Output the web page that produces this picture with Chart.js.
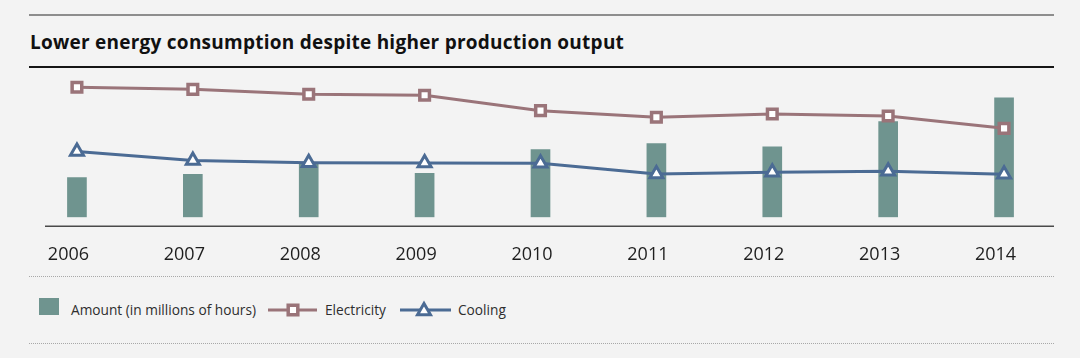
<!DOCTYPE html>
<html>
<head>
<meta charset="utf-8">
<script src="https://cdn.jsdelivr.net/npm/chart.js@4.4.1/dist/chart.umd.min.js"></script>
<style>
  html, body { margin: 0; padding: 0; background: #f3f3f3; }
  #wrap { position: relative; width: 1080px; height: 358px; overflow: hidden; font-family: "Open Sans", sans-serif; }
  .rule { position: absolute; left: 29px; width: 1025px; height: 0; }
  #rule-top { top: 14px; border-top: 2px solid #8d8d8d; }
  #rule-title { top: 66px; border-top: 2px solid #151515; }
  .dots { position: absolute; left: 29px; width: 1025px; height: 0; border-top: 1px dotted #a8a8a8; }
  #title { position: absolute; left: 30px; top: 29px; font-weight: 700; font-size: 19px; letter-spacing: 0.25px; line-height: 26px; color: #111; white-space: nowrap; }
  #chart { position: absolute; left: 0; top: 0; }
  .leg-text { position: absolute; top: 301px; font-size: 13.7px; line-height: 18px; color: #2e2e2e; white-space: nowrap; }
  .leg-mark { position: absolute; }
</style>
</head>
<body>
<div id="wrap">
  <div class="rule" id="rule-top"></div>
  <div id="title">Lower energy consumption despite higher production output</div>
  <div class="rule" id="rule-title"></div>
  <canvas id="chart" width="1080" height="270"></canvas>
  <div class="dots" style="top:276px"></div>
  <div class="dots" style="top:343px"></div>
  <div id="legend"></div>
</div>
<script>
// Dados
const years = ['2006', '2007', '2008', '2009', '2010', '2011', '2012', '2013', '2014'];
const amount = [0.99, 1.07, 1.32, 1.10, 1.69, 1.84, 1.76, 2.39, 2.98];
const electricity = [92.7, 91.2, 87.7, 87.0, 76.0, 71.3, 73.6, 72.2, 63.4];
const cooling = [46.9, 40.5, 38.8, 38.7, 38.5, 30.9, 32.1, 32.8, 30.6];

const barColor = '#6f948f';
const elecColor = '#9a7479';
const coolColor = '#4b6b94';

// Linha do eixo, um pouco abaixo das barras
const axisLine = {
    id: 'axisLine',
    afterDraw(c) {
        const g = c.ctx;
        const y = c.chartArea.bottom + 9;
        g.save();
        g.strokeStyle = '#4a4a4a';
        g.lineWidth = 1.5;
        g.beginPath();
        g.moveTo(45, y);
        g.lineTo(1054, y);
        g.stroke();
        g.restore();
    }
};

const ctx = document.getElementById('chart').getContext('2d');
const chart = new Chart(ctx, {
    data: {
        labels: years,
        datasets: [
            {
                type: 'bar',
                label: 'Amount (in millions of hours)',
                data: amount,
                yAxisID: 'y',
                backgroundColor: barColor,
                barThickness: 19,
                order: 2
            },
            {
                type: 'line',
                label: 'Electricity',
                data: electricity,
                yAxisID: 'y1',
                borderColor: elecColor,
                borderWidth: 3,
                pointStyle: 'rect',
                pointRadius: 6.8,
                pointBorderWidth: 3.5,
                pointBackgroundColor: '#fff',
                pointBorderColor: elecColor,
                order: 1
            },
            {
                type: 'line',
                label: 'Cooling',
                data: cooling,
                yAxisID: 'y1',
                borderColor: coolColor,
                borderWidth: 3,
                pointStyle: 'triangle',
                pointRadius: 7.5,
                pointBorderWidth: 3,
                pointBackgroundColor: '#fff',
                pointBorderColor: coolColor,
                order: 1
            }
        ]
    },
    options: {
        responsive: false,
        animation: false,
        devicePixelRatio: 1,
        layout: { padding: { left: 19, right: 18, top: 77, bottom: 0 } },
        plugins: { legend: { display: false }, tooltip: { enabled: false } },
        scales: {
            x: {
                grid: { display: false },
                border: { display: false },
                ticks: { padding: 19, labelOffset: -8.5, color: '#1e1e1e', font: { family: 'Open Sans', size: 18 } },
                afterFit: function(s) { s.height = 52.7; }
            },
            y: { display: false, min: 0, max: 3.5 },
            y1: { display: false, min: 0, max: 100 }
        }
    },
    plugins: [axisLine]
});

// Legenda em HTML a partir dos datasets
const legend = document.getElementById('legend');
const markLeft = [39, 268, 400];
const textLeft = [71, 325, 458];

chart.data.datasets.forEach(function(ds, i) {
    const cv = document.createElement('canvas');
    cv.className = 'leg-mark';
    const g = cv.getContext('2d');
    if (ds.type === 'bar') {
        cv.width = 20; cv.height = 17;
        cv.style.left = markLeft[i] + 'px';
        cv.style.top = '298px';
        g.fillStyle = ds.backgroundColor;
        g.fillRect(0, 0, 20, 17);
    } else {
        const w = ds.pointStyle === 'rect' ? 49 : 51;
        cv.width = w; cv.height = 20;
        cv.style.left = markLeft[i] + 'px';
        cv.style.top = '300px';
        g.strokeStyle = ds.borderColor;
        g.lineWidth = 3;
        g.beginPath(); g.moveTo(0, 10); g.lineTo(w, 10); g.stroke();
        g.fillStyle = '#fff';
        g.lineWidth = ds.pointBorderWidth;
        if (ds.pointStyle === 'rect') {
            g.beginPath(); g.rect(25 - 4.8, 10 - 4.8, 9.6, 9.6); g.fill(); g.stroke();
        } else {
            const cx = 24, cy = 11, r = 7.5;
            g.beginPath();
            g.moveTo(cx, cy - r);
            g.lineTo(cx + r * 0.866, cy + r / 2);
            g.lineTo(cx - r * 0.866, cy + r / 2);
            g.closePath(); g.fill(); g.stroke();
        }
    }
    legend.appendChild(cv);
    const t = document.createElement('div');
    t.className = 'leg-text';
    t.style.left = textLeft[i] + 'px';
    t.textContent = ds.label;
    legend.appendChild(t);
});
</script>
</body>
</html>
